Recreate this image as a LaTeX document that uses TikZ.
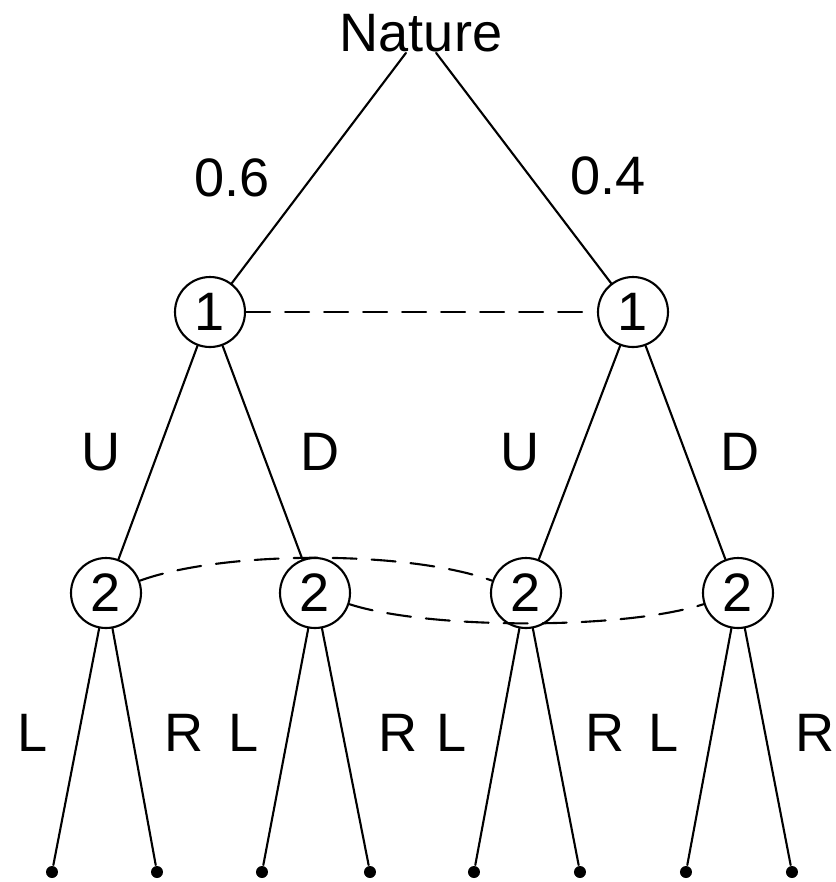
\documentclass[tikz,border=0pt]{standalone}
\usepackage{fontspec}
\setmainfont{Liberation Sans}
\begin{document}
\begin{tikzpicture}[line join=round,line cap=round,line width=0.6pt,font=\fontsize{15.4}{18}\selectfont,
	player/.style={draw,circle,minimum size=0.7cm,inner sep=0pt},
	leaf/.style={circle,fill,inner sep=0pt,minimum size=0.12cm},
	info/.style={dash pattern=on 0.24cm off 0.15cm}]
	\useasboundingbox (0,0) rectangle (8.36,-8.82);
	% Gốc cây: Nature
	\node[inner sep=0pt] (nat) at (4.21,-0.33) {Nature};
	
	% Các nút của người chơi 1
	\node[player] (p1a) at (2.10,-3.12) {1};
	\node[player] (p1b) at (6.33,-3.12) {1};
	
	% Các nút của người chơi 2
	\node[player] (p2a) at (1.06,-5.93) {2};
	\node[player] (p2b) at (3.15,-5.93) {2};
	\node[player] (p2c) at (5.26,-5.93) {2};
	\node[player] (p2d) at (7.38,-5.93) {2};
	
	% Các lá
	\foreach \x [count=\i] in {0.52,1.57,2.62,3.70,4.74,5.80,6.86,7.92}
	\node[leaf] (l\i) at (\x,-8.72) {};
	
	% Các cạnh
	\draw (nat) -- (p1a) (nat) -- (p1b);
	\draw (p1a) -- (p2a) (p1a) -- (p2b) (p1b) -- (p2c) (p1b) -- (p2d);
	\draw (p2a) -- (l1) (p2a) -- (l2) (p2b) -- (l3) (p2b) -- (l4);
	\draw (p2c) -- (l5) (p2c) -- (l6) (p2d) -- (l7) (p2d) -- (l8);
	
	% Tập thông tin
	\draw[info] (p1a) -- (p1b);
	\draw[info] (p2a) to[out=20,in=160,looseness=0.65] (p2c);
	\draw[info] (p2b) to[out=-18,in=198,looseness=0.6] (p2d);
	
	% Nhãn xác suất và hành động
	\node (q1) at (2.32,-1.78) {0.6};
	\node (q2) at (6.08,-1.76) {0.4};
	\foreach \x/\a [count=\i] in {1.01/U,3.20/D,5.20/U,7.40/D}
	\node (a\i) at (\x,-4.52) {\a};
	\foreach \x/\a [count=\i] in {0.33/L,1.84/R,2.44/L,3.98/R,4.52/L,6.05/R,6.64/L,8.15/R}
	\node (b\i) at (\x,-7.33) {\a};
\end{tikzpicture}
\end{document}
